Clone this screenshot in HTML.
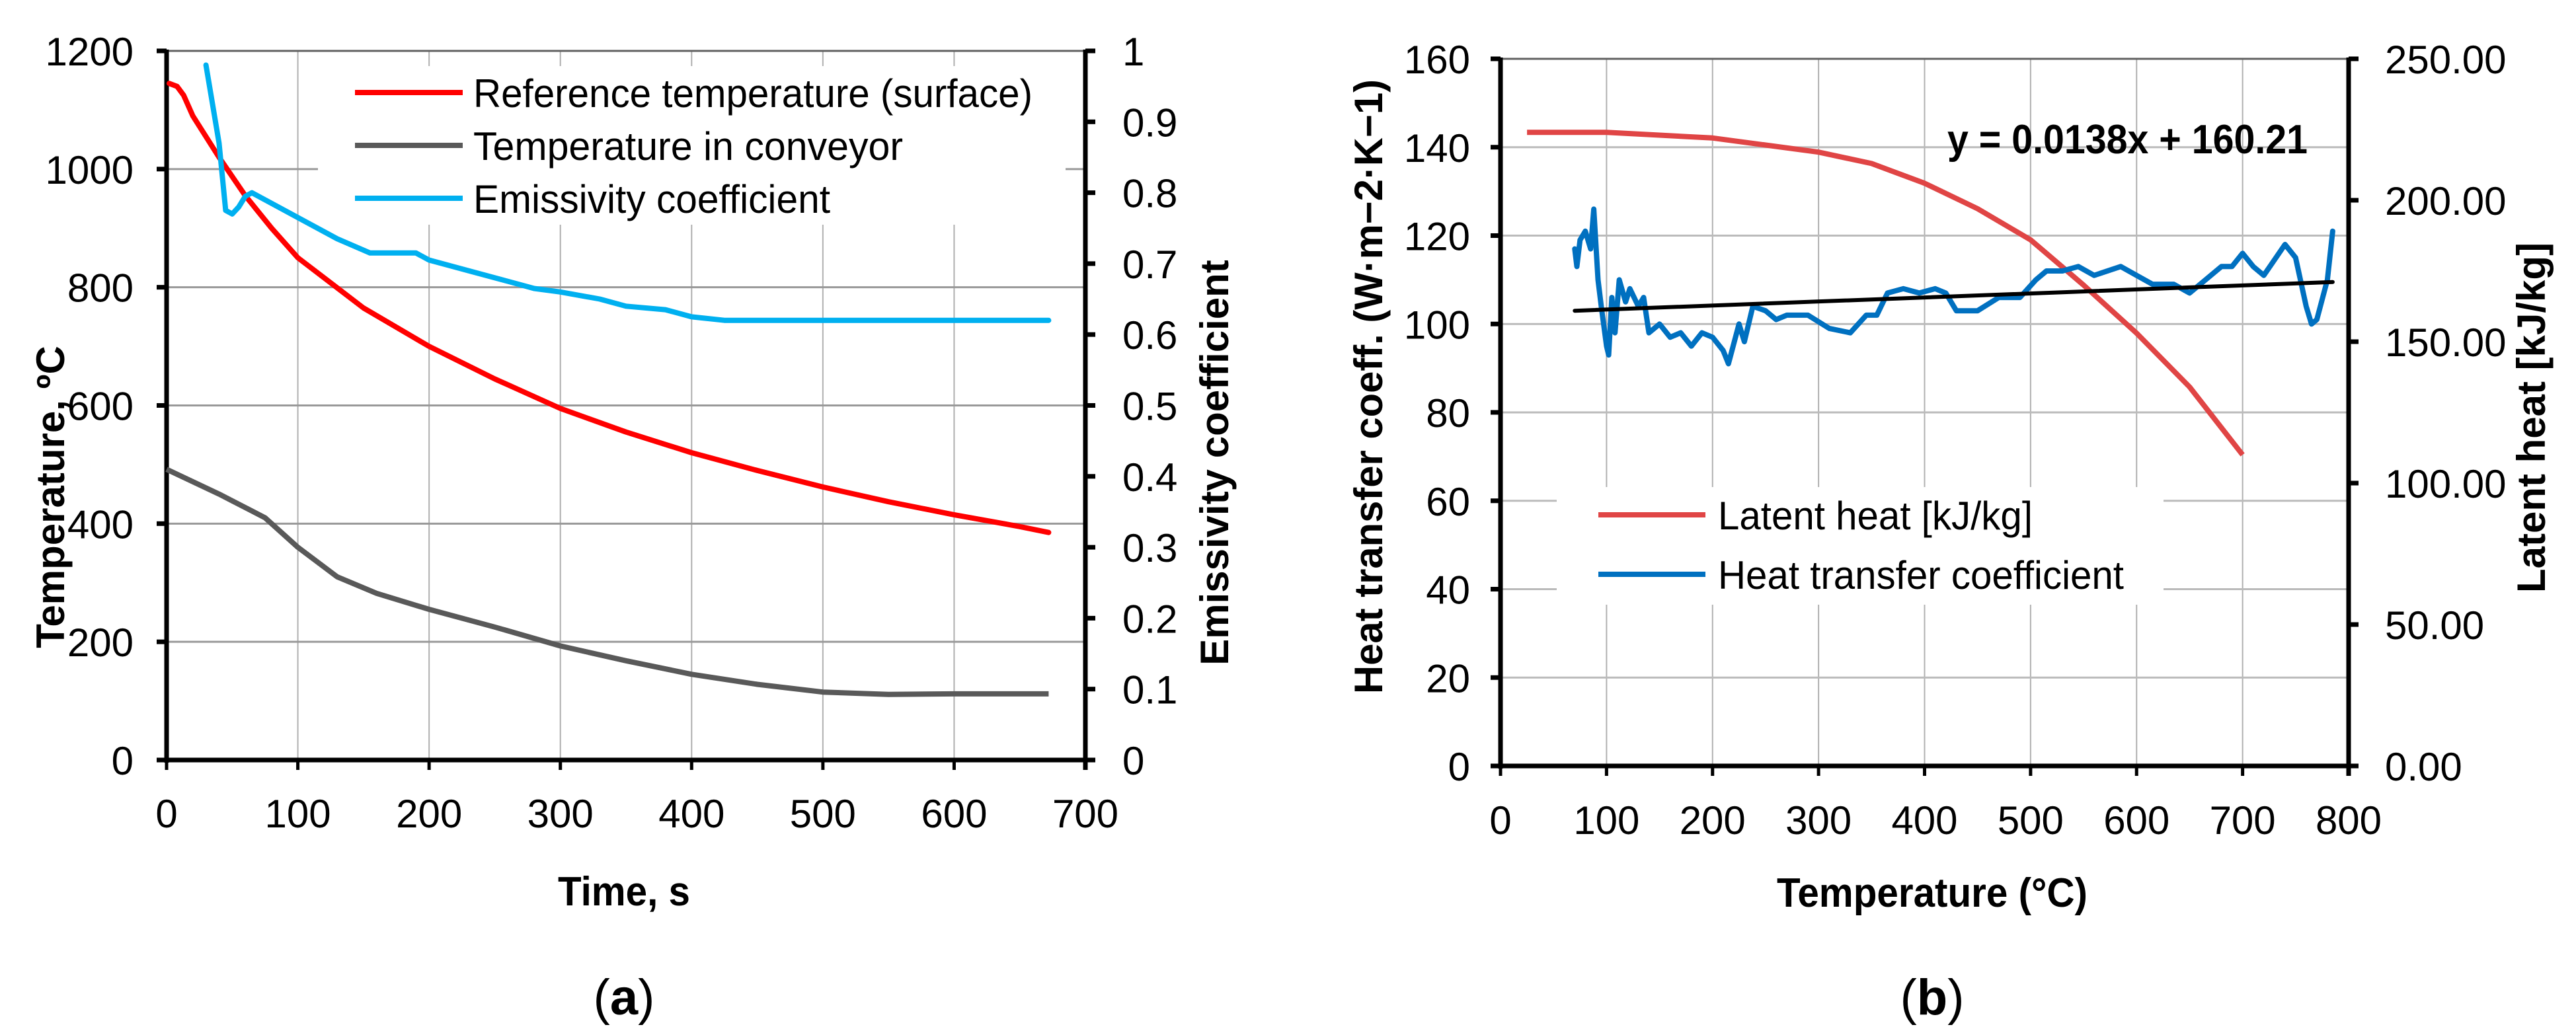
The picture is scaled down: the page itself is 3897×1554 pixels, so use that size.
<!DOCTYPE html>
<html><head><meta charset="utf-8">
<style>
html,body{margin:0;padding:0;background:#fff;}
svg{display:block;}
text{font-family:"Liberation Sans",Arial,sans-serif;}
</style></head>
<body>
<svg id="fig" xmlns="http://www.w3.org/2000/svg" width="3897" height="1554" viewBox="0 0 3897 1554">
<rect width="3897" height="1554" fill="#fff"/>
<g id="chartA"></g>
<g id="chartB"></g>
</svg>
<script>
// ---- Chart (a) data ----
const aRefTime = [2,8,13,20,40,60,80,100,150,200,250,300,350,400,450,500,550,600,650,672];
const aRefTemp = [1145,1140,1125,1090,1020,955,900,850,765,700,645,595,555,520,490,462,437,415,395,385];
const aConvTime = [0,40,75,100,130,160,200,250,300,350,400,450,500,550,600,672];
const aConvTemp = [492,450,410,360,310,282,255,225,193,168,145,128,115,111,112,112];
const aEmisTime = [30,40,45,50,55,60,65,100,130,155,190,200,230,260,280,300,330,350,380,400,425,430,672];
const aEmisVal = [0.98,0.87,0.775,0.77,0.78,0.795,0.8,0.765,0.735,0.715,0.715,0.705,0.69,0.675,0.665,0.66,0.65,0.64,0.635,0.625,0.62,0.62,0.62];
const aXTicks = [0,100,200,300,400,500,600,700];
const aYTicks = [0,200,400,600,800,1000,1200];
const aY2Ticks = ["0","0.1","0.2","0.3","0.4","0.5","0.6","0.7","0.8","0.9","1"];
// ---- Chart (b) data ----
const bLatTemp = [25,100,200,300,350,400,450,500,550,600,650,700];
const bLatVal = [224,224,222,217,213,206,197,186,170,153,134,110];
const bHtcTemp = [70,72,75,80,85,88,92,95,100,102,105,108,112,118,122,130,135,140,150,160,170,180,190,200,210,215,225,230,238,250,260,270,290,310,330,345,355,365,380,395,410,420,430,450,470,490,505,515,530,545,560,585,600,615,635,650,665,680,690,700,710,720,740,750,760,765,770,780,785];
const bHtcVal = [117,113,119,121,117,126,110,104,95,93,106,98,110,105,108,104,106,98,100,97,98,95,98,97,94,91,100,96,104,103,101,102,102,99,98,102,102,107,108,107,108,107,103,103,106,106,110,112,112,113,111,113,111,109,109,107,110,113,113,116,113,111,118,115,104,100,101,110,121];
const bTrendX = [70,785];
const bTrendY = [103,109.5];
const bXTicks = [0,100,200,300,400,500,600,700,800];
const bYTicks = [0,20,40,60,80,100,120,140,160];
const bY2Ticks = ["0.00","50.00","100.00","150.00","200.00","250.00"];

const NS="http://www.w3.org/2000/svg";
const FS=60;
function mk(parent,tag,attrs,txt){const e=document.createElementNS(NS,tag);for(const k in attrs)e.setAttribute(k,attrs[k]);if(txt!==undefined)e.textContent=txt;parent.appendChild(e);return e;}
function poly(xs,ys,sx,sy){return xs.map((x,i)=>sx(x).toFixed(1)+","+sy(ys[i]).toFixed(1)).join(" ");}

// ===== Chart A =====
(function(){
const g=document.getElementById('chartA');
const L=252,R=1642,T=77,B=1150;
const sx=v=>L+(v/700)*(R-L), sy=v=>B-(v/1200)*(B-T), sy2=v=>B-v*(B-T);
aXTicks.forEach(v=>{if(v>0&&v<700){const l=mk(g,'line',{x1:sx(v),x2:sx(v),y1:T,y2:B,stroke:'#b0b0b0','stroke-width':2});

}});
aYTicks.forEach(v=>{if(v>0){const l=mk(g,'line',{x1:L,x2:R,y1:sy(v),y2:sy(v),stroke:v==1200?'#606060':'#999',"stroke-width":3});

}});
const lb=mk(g,'rect',{x:481,y:100,width:1131,height:240,fill:'#fff'});


mk(g,'line',{x1:L,x2:L,y1:T-2,y2:B+4,stroke:'#000','stroke-width':7});
mk(g,'line',{x1:R,x2:R,y1:T-2,y2:B+15,stroke:'#000','stroke-width':7});
mk(g,'line',{x1:L-15,x2:R+15,y1:B,y2:B,stroke:'#000','stroke-width':7});
aYTicks.forEach(v=>{mk(g,'line',{x1:L-15,x2:L,y1:sy(v),y2:sy(v),stroke:'#000','stroke-width':7});
const t=mk(g,'text',{x:202,y:sy(v)+22,'font-size':FS,'text-anchor':'end'},String(v));

});
aY2Ticks.forEach((s,i)=>{const y=sy2(i/10);mk(g,'line',{x1:R,x2:R+15,y1:y,y2:y,stroke:'#000','stroke-width':7});
const t=mk(g,'text',{x:1698,y:y+22,'font-size':FS},s);

});
aXTicks.forEach(v=>{mk(g,'line',{x1:sx(v),x2:sx(v),y1:B,y2:B+15,stroke:'#000','stroke-width':5});
const t=mk(g,'text',{x:sx(v),y:1252,'font-size':FS,'text-anchor':'middle'},String(v));

});
const s1=mk(g,'polyline',{points:poly(aRefTime,aRefTemp,sx,sy),fill:'none',stroke:'#ff0000','stroke-width':8,'stroke-linejoin':'round','stroke-linecap':'round'});


const s2=mk(g,'polyline',{points:poly(aConvTime,aConvTemp,sx,sy),fill:'none',stroke:'#595959','stroke-width':8,'stroke-linejoin':'round'});


const s3=mk(g,'polyline',{points:poly(aEmisTime,aEmisVal,sx,sy2),fill:'none',stroke:'#00b0f0','stroke-width':8,'stroke-linejoin':'round','stroke-linecap':'round'});


const leg=[['Reference temperature (surface)','#ff0000',140,846],['Temperature in conveyor','#595959',220,650],['Emissivity coefficient','#00b0f0',300,540]];
leg.forEach(e=>{const gg=mk(g,'g',{});


mk(gg,'line',{x1:537,x2:700,y1:e[2],y2:e[2],stroke:e[1],'stroke-width':8});
mk(gg,'text',{x:716,y:e[2]+22,'font-size':FS,textLength:e[3],lengthAdjust:'spacingAndGlyphs'},e[0]);});
let t=mk(g,'text',{x:944,y:1370,'font-size':62,'font-weight':'bold','text-anchor':'middle',textLength:200,lengthAdjust:'spacingAndGlyphs'},'Time, s');


t=mk(g,'text',{x:0,y:0,'font-size':60,'font-weight':'bold','text-anchor':'middle',transform:'translate(97,752) rotate(-90)'},'Temperature, ºC');


t=mk(g,'text',{x:0,y:0,'font-size':60,'font-weight':'bold','text-anchor':'middle',transform:'translate(1858,700) rotate(-90)'},'Emissivity coefficient');


t=mk(g,'text',{x:944,y:1535,'font-size':76,'text-anchor':'middle','font-family':'"Liberation Serif",serif'},'');
mk(t,'tspan',{},'(');mk(t,'tspan',{'font-weight':'bold'},'a');mk(t,'tspan',{},')');


})();

// ===== Chart B =====
(function(){
const g=document.getElementById('chartB');
const L=2270,R=3553,T=89,B=1159;
const sx=v=>L+(v/800)*(R-L), sy=v=>B-(v/160)*(B-T), sy2=v=>B-(v/250)*(B-T);
bXTicks.forEach(v=>{if(v>0&&v<800){const l=mk(g,'line',{x1:sx(v),x2:sx(v),y1:T,y2:B,stroke:'#b0b0b0','stroke-width':2});

}});
bYTicks.forEach(v=>{if(v>0){const l=mk(g,'line',{x1:L,x2:R,y1:sy(v),y2:sy(v),stroke:v==160?'#606060':'#bbb',"stroke-width":3});

}});
const lb=mk(g,'rect',{x:2355,y:737,width:918,height:178,fill:'#fff'});


mk(g,'line',{x1:L,x2:L,y1:T-2,y2:B+4,stroke:'#000','stroke-width':7});
mk(g,'line',{x1:R,x2:R,y1:T-2,y2:B+15,stroke:'#000','stroke-width':7});
mk(g,'line',{x1:L-15,x2:R+15,y1:B,y2:B,stroke:'#000','stroke-width':7});
bYTicks.forEach(v=>{mk(g,'line',{x1:L-15,x2:L,y1:sy(v),y2:sy(v),stroke:'#000','stroke-width':7});
const t=mk(g,'text',{x:2224,y:sy(v)+22,'font-size':FS,'text-anchor':'end'},String(v));

});
bY2Ticks.forEach((s,i)=>{const y=sy2(i*50);mk(g,'line',{x1:R,x2:R+15,y1:y,y2:y,stroke:'#000','stroke-width':7});
const t=mk(g,'text',{x:3608,y:y+22,'font-size':FS},s);

});
bXTicks.forEach(v=>{mk(g,'line',{x1:sx(v),x2:sx(v),y1:B,y2:B+15,stroke:'#000','stroke-width':5});
const t=mk(g,'text',{x:sx(v),y:1262,'font-size':FS,'text-anchor':'middle'},String(v));

});
const s1=mk(g,'polyline',{points:poly(bLatTemp,bLatVal,sx,sy2),fill:'none',stroke:'#e04545','stroke-width':8,'stroke-linejoin':'round'});


const s2=mk(g,'polyline',{points:poly(bHtcTemp,bHtcVal,sx,sy),fill:'none',stroke:'#0070c0','stroke-width':8,'stroke-linejoin':'round','stroke-linecap':'round'});


const s3=mk(g,'polyline',{points:poly(bTrendX,bTrendY,sx,sy),fill:'none',stroke:'#000','stroke-width':6,'stroke-linecap':'round'});


let t=mk(g,'text',{x:2946,y:232,'font-size':62,'font-weight':'bold',textLength:545,lengthAdjust:'spacingAndGlyphs'},'y = 0.0138x + 160.21');


const leg=[['Latent heat [kJ/kg]','#e04545',779,476],['Heat transfer coefficient','#0070c0',869,614]];
leg.forEach(e=>{const gg=mk(g,'g',{});


mk(gg,'line',{x1:2418,x2:2580,y1:e[2],y2:e[2],stroke:e[1],'stroke-width':8});
mk(gg,'text',{x:2599,y:e[2]+22,'font-size':FS,textLength:e[3],lengthAdjust:'spacingAndGlyphs'},e[0]);});
t=mk(g,'text',{x:2923,y:1372,'font-size':62,'font-weight':'bold','text-anchor':'middle',textLength:470,lengthAdjust:'spacingAndGlyphs'},'Temperature (°C)');


t=mk(g,'text',{x:0,y:0,'font-size':60,'font-weight':'bold','text-anchor':'middle',transform:'translate(2091,585) rotate(-90)',textLength:930,lengthAdjust:'spacingAndGlyphs'},'Heat transfer coeff.  (W·m−2·K−1)');


t=mk(g,'text',{x:0,y:0,'font-size':60,'font-weight':'bold','text-anchor':'middle',transform:'translate(3850,632) rotate(-90)'},'Latent heat [kJ/kg]');


t=mk(g,'text',{x:2923,y:1535,'font-size':76,'text-anchor':'middle','font-family':'"Liberation Serif",serif'},'');
mk(t,'tspan',{},'(');mk(t,'tspan',{'font-weight':'bold'},'b');mk(t,'tspan',{},')');


})();
</script>
</body></html>
